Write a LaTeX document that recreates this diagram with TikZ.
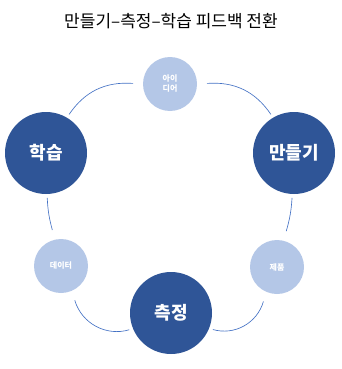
\documentclass[tikz,border=0pt]{standalone}
\usepackage{fontspec}
\setmainfont{Noto Sans CJK KR}
\usepackage{tikz}
\definecolor{darkblue}{HTML}{2F5597}
\definecolor{lightblue}{HTML}{B4C7E7}
\definecolor{linkblue}{HTML}{4472C4}
\tikzset{
  big/.style={circle, fill=darkblue, minimum size=82pt, inner sep=0pt, outer sep=4pt,
    text=white, font=\bfseries\fontsize{18}{20}\selectfont},
  small/.style={circle, fill=lightblue, minimum size=54pt, inner sep=0pt, outer sep=10pt,
    text=white, font=\bfseries\fontsize{8}{10}\selectfont, align=center},
  link/.style={draw=linkblue, line width=0.65pt}
}
\begin{document}
\begin{tikzpicture}[x=1pt, y=-1pt]
  \useasboundingbox (0,0) rectangle (341,369);
  \node (title) at (171,21) {\fontsize{17}{19}\selectfont 만들기–측정–학습 피드백 전환};

  \node[small] (idea) at (170,84) {아이\\디어};
  \node[big] (build) at (294,153) {만들기};
  \node[small] (product) at (277,267) {제품};
  \node[big] (measure) at (171,313) {측정};
  \node[small] (data) at (61,266) {데이터};
  \node[big] (learn) at (46,153) {학습};

  \draw[link] (idea) to[bend left=30] (build);
  \draw[link] (build) to[bend left=6] (product);
  \draw[link] (product) to[bend left=45] (measure);
  \draw[link] (measure) to[bend left=45] (data);
  \draw[link] (data) to[bend left=6] (learn);
  \draw[link] (learn) to[bend left=30] (idea);
\end{tikzpicture}
\end{document}
